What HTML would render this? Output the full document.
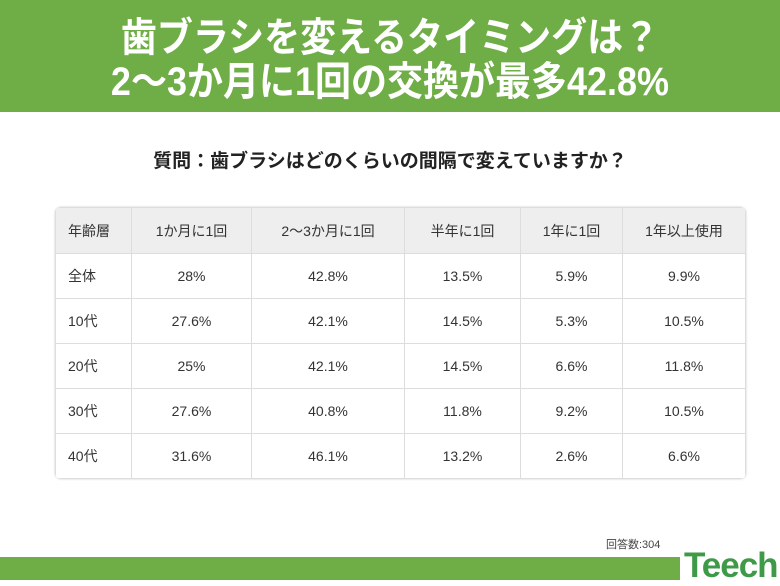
<!DOCTYPE html>
<html><head><meta charset="utf-8"><style>
body{margin:0;width:780px;height:580px;background:#fff;position:relative;overflow:hidden;font-family:"Liberation Sans","Noto Sans CJK JP",sans-serif;}
.hd{position:absolute;left:0;top:0;width:780px;height:112px;background:#6fad46;}
.hd div{position:absolute;left:0;width:780px;text-align:center;color:#fff;font-weight:bold;font-size:40px;line-height:44px;transform:scaleX(0.9);}
.q{position:absolute;top:146px;width:780px;text-align:center;font-size:19px;font-weight:bold;color:#222;}
table{position:absolute;left:55px;top:207px;width:691px;border-collapse:collapse;font-size:14px;color:#333;border-radius:6px;overflow:hidden;box-shadow:0 0 2px #ccc;}
td{border:1px solid #ddd;height:44px;text-align:center;padding:0;}
tr:first-child td{background:#eee;height:45px;}
td:first-child{text-align:left;padding-left:12px;}
.n{position:absolute;left:606px;top:536px;font-size:11px;color:#444;}
.bar{position:absolute;left:0;top:557px;width:680px;height:23px;background:#6fad46;}
.logo{position:absolute;left:684px;top:546px;font-size:35px;font-weight:bold;color:#3f9a48;letter-spacing:-1px;}
</style></head><body>
<div class="hd"><div style="top:16px">歯ブラシを変えるタイミングは？</div><div style="top:60px">2〜3か月に1回の交換が最多42.8%</div></div>
<div class="q">質問：歯ブラシはどのくらいの間隔で変えていますか？</div>
<table>
<colgroup><col style="width:76px"><col style="width:120px"><col style="width:153px"><col style="width:116px"><col style="width:102px"><col></colgroup>
<tr><td>年齢層</td><td>1か月に1回</td><td>2〜3か月に1回</td><td>半年に1回</td><td>1年に1回</td><td>1年以上使用</td></tr>
<tr><td>全体</td><td>28%</td><td>42.8%</td><td>13.5%</td><td>5.9%</td><td>9.9%</td></tr>
<tr><td>10代</td><td>27.6%</td><td>42.1%</td><td>14.5%</td><td>5.3%</td><td>10.5%</td></tr>
<tr><td>20代</td><td>25%</td><td>42.1%</td><td>14.5%</td><td>6.6%</td><td>11.8%</td></tr>
<tr><td>30代</td><td>27.6%</td><td>40.8%</td><td>11.8%</td><td>9.2%</td><td>10.5%</td></tr>
<tr><td>40代</td><td>31.6%</td><td>46.1%</td><td>13.2%</td><td>2.6%</td><td>6.6%</td></tr>
</table>
<div class="n">回答数:304</div>
<div class="bar"></div>
<div class="logo">Teech</div>
</body></html>
